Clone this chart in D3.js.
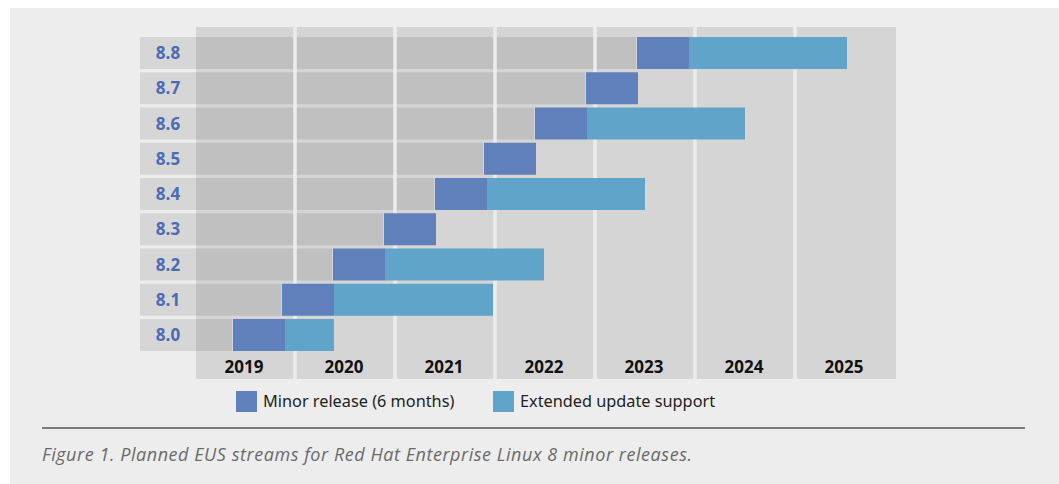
<!DOCTYPE html>
<html>
<head>
<meta charset="utf-8">
<script src="https://cdn.jsdelivr.net/npm/d3@7/dist/d3.min.js"></script>
<style>
  body { margin: 0; background: #ffffff; }
  svg { display: block; }
</style>
</head>
<body>
<div id="chart"></div>
<script>
///// Data

// minor releases, top row first
let versions = ["8.8", "8.7", "8.6", "8.5", "8.4", "8.3", "8.2", "8.1", "8.0"];
// start of the 6-month minor release window (decimal year)
let releaseStart = [2023.41, 2022.90, 2022.39, 2021.88, 2021.39, 2020.88, 2020.37, 2019.86, 2019.37];
// end of the minor release window
let releaseEnd = [2023.93, 2023.42, 2022.91, 2022.40, 2021.91, 2021.40, 2020.89, 2020.38, 2019.89];
// end of extended update support (null = no EUS stream)
let eusEnd = [2025.51, null, 2024.49, null, 2023.49, null, 2022.48, 2021.97, 2020.38];
// year columns
let years = [2019, 2020, 2021, 2022, 2023, 2024, 2025];
let legendLabels = ["Minor release (6 months)", "Extended update support"];
let caption = "Figure 1. Planned EUS streams for Red Hat Enterprise Linux 8 minor releases.";

///// Layout

let W = 1059, H = 484;
let colors = { release: "#6080bb", eus: "#60a5c9", gray: "#c0c0c0", col: "#d5d5d5", panel: "#ededed" };

let svg = d3.select("#chart").append("svg")
    .attr("width", W)
    .attr("height", H);

// panel background
svg.append("rect")
    .attr("x", 10).attr("y", 8)
    .attr("width", W - 10).attr("height", H - 8)
    .attr("fill", colors.panel);

// scales
let x = d3.scaleLinear().domain([2019, 2026]).range([196, 896]);
let y = d3.scaleBand().domain(versions).range([37, 351]).paddingInner(0.092).paddingOuter(0);

let rows = versions.map(function(v, i) {
    return { v: v, start: releaseStart[i], relEnd: releaseEnd[i], eus: eusEnd[i] };
});

// year columns background
svg.append("rect")
    .attr("x", x(2019)).attr("y", 27)
    .attr("width", x(2026) - x(2019)).attr("height", 379 - 27)
    .attr("fill", colors.col);

// label cells
svg.selectAll(".cell")
    .data(rows)
    .enter().append("rect")
    .attr("class", "cell")
    .attr("x", 140).attr("y", function(d) { return y(d.v); })
    .attr("width", x(2019) - 140).attr("height", y.bandwidth())
    .attr("fill", "#d6d6d6");

// gray lead-in bars
svg.selectAll(".lead")
    .data(rows)
    .enter().append("rect")
    .attr("class", "lead")
    .attr("x", x(2019)).attr("y", function(d) { return y(d.v); })
    .attr("width", function(d) { return x(d.start) - x(2019) - 1; })
    .attr("height", y.bandwidth())
    .attr("fill", colors.gray);

// white separators between year columns
svg.selectAll(".sep")
    .data(years.slice(1))
    .enter().append("line")
    .attr("class", "sep")
    .attr("x1", function(d) { return x(d) - 1; }).attr("x2", function(d) { return x(d) - 1; })
    .attr("y1", 27).attr("y2", 379)
    .attr("stroke", "#ececec")
    .attr("stroke-width", 3.5);

// EUS bars
svg.selectAll(".eus")
    .data(rows.filter(function(d) { return d.eus !== null; }))
    .enter().append("rect")
    .attr("class", "eus")
    .attr("x", function(d) { return x(d.relEnd); }).attr("y", function(d) { return y(d.v); })
    .attr("width", function(d) { return x(d.eus) - x(d.relEnd); })
    .attr("height", y.bandwidth())
    .attr("fill", colors.eus);

// minor release bars
svg.selectAll(".rel")
    .data(rows)
    .enter().append("rect")
    .attr("class", "rel")
    .attr("x", function(d) { return x(d.start); }).attr("y", function(d) { return y(d.v); })
    .attr("width", function(d) { return x(d.relEnd) - x(d.start); })
    .attr("height", y.bandwidth())
    .attr("fill", colors.release);

// row labels
svg.selectAll(".vlabel")
    .data(rows)
    .enter().append("text")
    .attr("class", "vlabel")
    .attr("x", 168).attr("y", function(d) { return y(d.v) + y.bandwidth() / 2; })
    .attr("dy", "0.36em")
    .attr("text-anchor", "middle")
    .style("font-family", "'Open Sans', 'DejaVu Sans', sans-serif")
    .style("font-weight", 700)
    .style("font-size", "17px")
    .style("fill", "#4a6cb7")
    .text(function(d) { return d.v; });

// year labels
svg.selectAll(".ylabel")
    .data(years)
    .enter().append("text")
    .attr("class", "ylabel")
    .attr("x", function(d) { return x(d + 0.5) - 2; })
    .attr("y", 373)
    .attr("text-anchor", "middle")
    .style("font-family", "'Open Sans', 'DejaVu Sans', sans-serif")
    .style("font-weight", 700)
    .style("font-size", "17px")
    .style("fill", "#111")
    .text(function(d) { return d; });

// legend
let legend = svg.selectAll(".legend")
    .data(legendLabels)
    .enter().append("g")
    .attr("class", "legend")
    .attr("transform", function(d, i) { return "translate(" + [236, 493][i] + ",391)"; });

legend.append("rect")
    .attr("width", 21).attr("height", 21)
    .attr("fill", function(d, i) { return i === 0 ? colors.release : colors.eus; });

legend.append("text")
    .attr("x", 27).attr("y", 16)
    .style("font-family", "'Noto Sans', 'Open Sans', sans-serif")
    .style("font-size", "16.3px")
    .style("fill", "#222")
    .text(function(d) { return d; });

// caption rule and caption
svg.append("line")
    .attr("x1", 42).attr("x2", 1025)
    .attr("y1", 428).attr("y2", 428)
    .attr("stroke", "#555")
    .attr("stroke-width", 1.3);

svg.append("text")
    .attr("x", 42).attr("y", 461)
    .attr("textLength", 650)
    .style("font-family", "'Open Sans', 'Noto Sans', sans-serif")
    .style("font-style", "italic")
    .style("font-size", "18px")
    .style("fill", "#6a6a6a")
    .text(caption);
</script>
</body>
</html>
